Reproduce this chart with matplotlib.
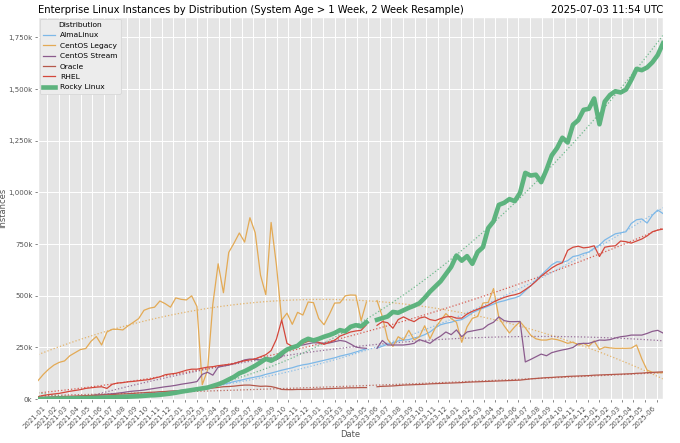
"""Enterprise Linux instances by distribution, 2 week resample, with quadratic trends."""

import matplotlib

matplotlib.use("Agg")
import matplotlib.dates as mdates
import matplotlib.pyplot as plt
import numpy as np
import pandas as pd
from matplotlib.ticker import FuncFormatter, MultipleLocator

nan = np.nan

DATES = pd.date_range("2020-12-09", periods=119, freq="14D")

DISTRIBUTIONS = ["AlmaLinux", "CentOS Legacy", "CentOS Stream", "Oracle", "RHEL", "Rocky Linux"]

# instances, thousands
ALMALINUX = [
    1, 2, 3, 4, 5, 6, 7, 8, 9, 10, 11, 12, 13, 14, 16, 17, 18, 19, 21, 23,
    25, 28, 30, 33, 36, 38, 40, 42, 44, 47, 50, 54, 58, 62, 66, 72, 78, 85, 90, 96,
    102, 107, 112, 120, 126, 133, 140, 146, 152, 160, 166, 170, 176, 182, 188, 194, 200, 208, 214, 220,
    228, 236, 244, nan, 247, 256, 266, 272, 282, 286, 288, 296, 302, 312, 325, 345, 360, 367, 372, 380,
    385, 400, 418, 430, 440, 450, 460, 470, 476, 484, 490, 500, 525, 548, 575, 600, 625, 650, 665, 662,
    670, 690, 695, 705, 712, 730, 745, 770, 785, 800, 805, 810, 850, 868, 872, 852, 890, 915, 898,
]
CENTOS_LEGACY = [
    90, 120, 145, 165, 178, 185, 210, 225, 240, 245, 280, 303, 262, 325, 338, 338, 335, 355, 372, 390,
    430, 440, 445, 475, 462, 445, 490, 483, 480, 500, 448, 70, 140, 460, 655, 515, 710, 755, 804, 760,
    878, 805, 600, 505, 855, 650, 383, 416, 362, 420, 407, 470, 467, 390, 360, 410, 465, 466, 500, 504,
    503, 380, 470, nan, 477, 400, 290, 255, 302, 286, 333, 287, 302, 355, 292, 345, 380, 414, 390, 372,
    275, 350, 391, 400, 465, 468, 535, 395, 355, 320, 350, 375, 345, 310, 292, 286, 286, 292, 288, 280,
    270, 276, 262, 270, 256, 282, 240, 252, 248, 246, 246, 246, 247, 262, 195, 140, 130, 128, 128,
]
CENTOS_STREAM = [
    4, 5, 6, 8, 9, 10, 11, 12, 13, 15, 17, 19, 21, 24, 26, 29, 32, 36, 39, 41,
    44, 48, 52, 56, 60, 63, 67, 72, 76, 80, 85, 120, 130, 116, 155, 160, 165, 172, 180, 190,
    194, 192, 190, 200, 198, 190, 205, 238, 250, 260, 262, 268, 273, 272, 270, 272, 278, 284, 280, 267,
    252, 248, 246, nan, 246, 284, 262, 262, 262, 262, 265, 270, 288, 280, 270, 290, 305, 325, 312, 335,
    302, 325, 330, 335, 340, 360, 372, 398, 380, 375, 375, 376, 180, 192, 205, 218, 210, 225, 232, 238,
    243, 250, 268, 270, 270, 278, 286, 285, 288, 296, 302, 305, 310, 310, 310, 318, 328, 333, 320,
]
ORACLE = [
    8, 9, 10, 11, 12, 13, 14, 15, 16, 17, 18, 19, 20, 21, 22, 24, 25, 26, 28, 30,
    31, 33, 34, 36, 37, 39, 40, 42, 43, 45, 47, 50, 52, 54, 57, 60, 61, 63, 66, 68,
    68, 65, 62, 63, 61, 55, 47, 46, 46, 47, 47, 47, 48, 49, 50, 51, 52, 53, 54, 55,
    55, 56, 56, nan, 60, 62, 63, 64, 66, 68, 69, 70, 71, 72, 74, 75, 76, 77, 78, 79,
    80, 82, 83, 84, 85, 86, 87, 88, 89, 90, 91, 92, 95, 98, 100, 102, 104, 105, 107, 108,
    110, 111, 112, 113, 114, 116, 117, 118, 119, 120, 121, 122, 123, 125, 126, 128, 129, 131, 132,
]
RHEL = [
    12, 18, 22, 25, 28, 33, 38, 42, 46, 52, 55, 58, 60, 52, 72, 78, 80, 84, 86, 89,
    92, 95, 102, 108, 118, 122, 125, 132, 140, 145, 145, 150, 155, 157, 162, 165, 168, 172, 180, 186,
    190, 195, 205, 215, 235, 290, 383, 270, 255, 255, 270, 280, 282, 275, 265, 275, 285, 305, 315, 325,
    330, 333, 360, nan, 357, 375, 370, 343, 385, 398, 385, 375, 392, 398, 385, 380, 390, 398, 400, 392,
    392, 412, 425, 435, 445, 455, 470, 482, 492, 500, 505, 513, 530, 548, 570, 595, 615, 635, 650, 660,
    720, 735, 740, 732, 735, 742, 690, 735, 740, 742, 765, 762, 755, 765, 775, 790, 810, 818, 823,
]
ROCKY_LINUX = [
    1, 1, 2, 2, 3, 3, 4, 4, 5, 5, 6, 6, 7, 8, 9, 10, 11, 12, 13, 14,
    16, 18, 19, 21, 24, 27, 31, 36, 40, 44, 48, 52, 56, 64, 72, 82, 95, 108, 125, 135,
    148, 162, 178, 195, 186, 200, 222, 240, 250, 258, 280, 292, 284, 292, 302, 310, 320, 334, 328, 350,
    358, 352, 372, nan, 384, 392, 400, 422, 418, 430, 442, 452, 464, 490, 520, 545, 570, 605, 640, 695,
    670, 692, 655, 712, 735, 828, 860, 940, 950, 968, 958, 998, 1095, 1082, 1086, 1050, 1110, 1180, 1215, 1265,
    1242, 1328, 1350, 1400, 1405, 1455, 1330, 1440, 1472, 1490, 1484, 1498, 1544, 1598, 1592, 1605, 1630, 1665, 1722,
]

SERIES = [ALMALINUX, CENTOS_LEGACY, CENTOS_STREAM, ORACLE, RHEL, ROCKY_LINUX]
COLORS = ["#7db8e8", "#e3aa55", "#8b5b8d", "#b5584b", "#d4473b", "#5db37e"]
WIDTHS = [0.9, 0.9, 0.9, 0.9, 0.9, 3.3]

TITLE = "Enterprise Linux Instances by Distribution (System Age > 1 Week, 2 Week Resample)"
STAMP = "2025-07-03 11:54 UTC"


def main():
    plt.style.use("ggplot")
    plt.rcParams["font.family"] = ["DejaVu Sans"]

    fig = plt.figure(figsize=(6.8, 4.43), dpi=100)
    ax = fig.add_axes([0.056, 0.099, 0.919, 0.863])

    xnum = mdates.date2num(DATES)
    for name, values, color, width in zip(DISTRIBUTIONS, SERIES, COLORS, WIDTHS):
        y = np.array(values, dtype=float) * 1000
        ax.plot(DATES, y, color=color, linewidth=width, label=name, zorder=3 if width < 2 else 4)
        ok = ~np.isnan(y)
        coef = np.polyfit(xnum[ok], y[ok], 2)
        ax.plot(DATES, np.polyval(coef, xnum), color=color, linestyle=":",
                linewidth=0.9, alpha=0.85, zorder=2)

    ax.set_xlim(DATES[0], DATES[-1])
    ax.set_ylim(0, 1850000)
    ax.yaxis.set_major_locator(MultipleLocator(250000))
    ax.yaxis.set_major_formatter(FuncFormatter(lambda v, _: f"{v / 1000:,.0f}k"))
    ax.xaxis.set_major_locator(mdates.MonthLocator())
    ax.xaxis.set_major_formatter(mdates.DateFormatter("%Y-%m"))
    ax.tick_params(axis="both", labelsize=5.0, length=2.5, width=0.5, pad=1.5)
    for label in ax.get_xticklabels():
        label.set_rotation(45)
        label.set_ha("right")
    ax.grid(True, color="white", linewidth=0.7)

    ax.set_xlabel("Date", fontsize=6, labelpad=0)
    ax.set_ylabel("Instances", fontsize=6, labelpad=0.5)
    ax.set_title(TITLE, loc="left", fontsize=7.2, pad=3, color="black")
    ax.set_title(STAMP, loc="right", fontsize=7.2, pad=3, color="black")

    leg = ax.legend(title="Distribution", loc="upper left", fontsize=5.4, title_fontsize=5.4,
                    frameon=True, facecolor="#ececec", edgecolor="#d4d4d4", framealpha=1,
                    handlelength=1.6, borderpad=0.45, labelspacing=0.55, borderaxespad=0.25,
                    handletextpad=0.6)
    leg.get_frame().set_linewidth(0.5)

    fig.savefig("out.png", dpi=100, facecolor="white")
    plt.close(fig)


if __name__ == "__main__":
    main()
